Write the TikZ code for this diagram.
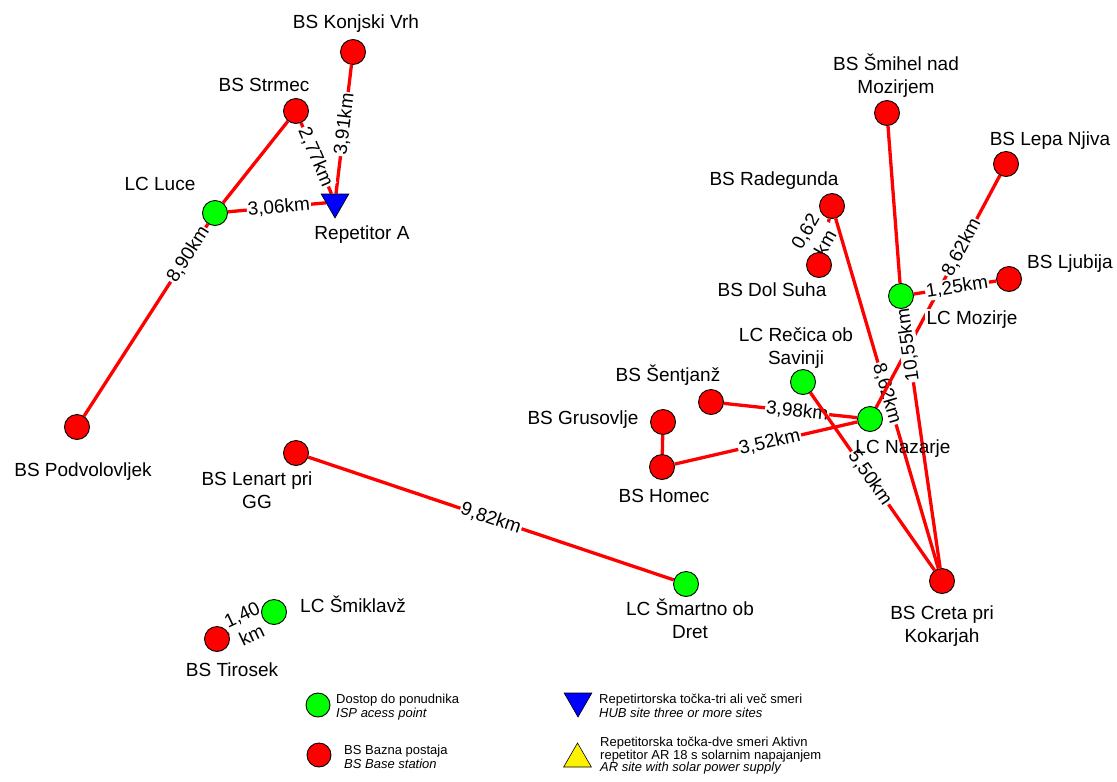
\documentclass[tikz,border=0pt]{standalone}
\usepackage{fontspec}
\setmainfont{Liberation Sans}
\usetikzlibrary{shapes.geometric}
\newcommand\lblfont{\fontsize{19}{23}\selectfont}
\newcommand\legfont{\fontsize{13}{14}\selectfont}
\newcommand\legfontb{\fontsize{13}{12.6}\selectfont}
\pgfdeclarelayer{bg}
\pgfsetlayers{bg,main}
\begin{document}
\begin{tikzpicture}[x=1pt,y=-1pt,
 site/.style={circle,draw=black,line width=0.9pt,minimum size=25pt,inner sep=0pt},
 bs/.style={site,fill=red},
 lc/.style={site,fill=green},
 hub/.style={regular polygon,regular polygon sides=3,shape border rotate=180,fill=blue,draw=black,line width=0.6pt,minimum size=32pt,inner sep=0pt},
 ar/.style={regular polygon,regular polygon sides=3,fill=yellow,draw=black,line width=0.6pt,minimum size=32pt,inner sep=0pt},
 link/.style={draw=red,line width=3.3pt},
 dist/.style={fill=white,inner sep=1pt,font=\lblfont,align=center},
 dists/.style={dist,sloped},
 sitename/.style={font=\lblfont,inner sep=0pt,align=center,text height=13.6pt,text depth=0pt},
 leg/.style={font=\legfont,inner sep=0pt,align=left,anchor=west,text height=9.3pt,text depth=0pt}
]
\useasboundingbox (0,0) rectangle (1117,782);

% sites
\node[bs] (konj) at (353,52) {};
\node[bs] (strmec) at (296,111) {};
\node[lc] (luce) at (215,213) {};
\node[hub] (rep) at (335,202) {};
\node[bs] (podv) at (77,427) {};
\node[bs] (lenart) at (296,453) {};
\node[lc] (smartno) at (686,584) {};
\node[lc] (smiklavz) at (274,612) {};
\node[bs] (tirosek) at (217,639) {};
\node[bs] (radeg) at (832,206) {};
\node[bs] (dolsuha) at (819,265) {};
\node[bs] (smihel) at (887,113) {};
\node[bs] (lepa) at (1006,164) {};
\node[bs] (ljubija) at (1009,279) {};
\node[lc] (mozirje) at (901,296) {};
\node[lc] (recica) at (803,382) {};
\node[bs] (sentjanz) at (711,402) {};
\node[bs] (grus) at (663,422) {};
\node[bs] (homec) at (662,467) {};
\node[lc] (nazarje) at (870,419) {};
\node[bs] (creta) at (942,581) {};

% site names (multi-line nodes are placed at their last line)
\node[sitename] (tkonj) at (356,22) {BS Konjski Vrh};
\node[sitename] (tstrmec) at (264,85) {BS Strmec};
\node[sitename] (tluce) at (160,184) {LC Luce};
\node[sitename] (trep) at (362,233) {Repetitor A};
\node[sitename] (tpodv) at (83,470) {BS Podvolovljek};
\node[sitename] (tlenart) at (257,502) {BS Lenart pri\\GG};
\node[sitename] (tsmiklavz) at (353,606) {LC Šmiklavž};
\node[sitename] (ttirosek) at (232,670) {BS Tirosek};
\node[sitename] (tsmartno) at (690,632) {LC Šmartno ob\\Dret};
\node[sitename] (thomec) at (664,496) {BS Homec};
\node[sitename] (tgrus) at (583,418) {BS Grusovlje};
\node[sitename] (tsentjanz) at (668,375) {BS Šentjanž};
\node[sitename] (trecica) at (796,358) {LC Rečica ob\\Savinji};
\node[sitename] (tnazarje) at (903,447) {LC Nazarje};
\node[sitename] (tcreta) at (942,636) {BS Creta pri\\Kokarjah};
\node[sitename] (tradeg) at (774,179) {BS Radegunda};
\node[sitename] (tdolsuha) at (772,290) {BS Dol Suha};
\node[sitename] (tsmihel) at (896,87) {BS Šmihel nad\\Mozirjem};
\node[sitename] (tlepa) at (1050,139) {BS Lepa Njiva};
\node[sitename] (tljubija) at (1070,262) {BS Ljubija};
\node[sitename,fill=white,inner sep=2pt] (tmozirje) at (972,318) {LC Mozirje};

% links
\begin{pgfonlayer}{bg}
\draw[link] (luce) -- (strmec);
\draw[link] (rep) -- (konj) node[dists,pos=0.54] {3,91km};
\draw[link] (strmec) -- (rep) node[dists,pos=0.48] {2,77km};
\draw[link] (luce) -- (rep) node[dists,pos=0.52] {3,06km};
\draw[link] (podv) -- (luce) node[dists,pos=0.84] {8,90km};
\draw[link] (lenart) -- (smartno) node[dists,pos=0.5] {9,82km};
\draw[link] (tirosek) -- (smiklavz) node[dists,pos=0.54] {1,40\\km};
\draw[link] (dolsuha) -- (radeg) node[dist,pos=0.45,xshift=-10pt,rotate=60] {0,62\\km};
\draw[link] (smihel) -- (mozirje);
\draw[link] (grus) -- (homec);
\draw[link] (radeg) -- (creta) node[dists,pos=0.5] {8,62km};
\draw[link] (nazarje) -- (lepa) node[dists,pos=0.69] {8,62km};
\draw[link] (mozirje) -- (ljubija) node[dists,pos=0.525] {1,25km};
\draw[link] (creta) -- (mozirje) node[dist,pos=0.86,rotate=98] {10,55km};
\draw[link] (sentjanz) -- (nazarje) node[dists,pos=0.55] {3,98km};
\draw[link] (homec) -- (nazarje) node[dists,pos=0.52] {3,52km};
\draw[link] (recica) -- (creta) node[dists,pos=0.48] {5,50km};
\end{pgfonlayer}

% legend
\node[lc,minimum size=24pt] (lgreen) at (318,705) {};
\node[leg] (tgreen) at (336,713) {Dostop do ponudnika\\\textit{ISP acess point}};
\node[bs,minimum size=24pt] (lred) at (319,755) {};
\node[leg] (tred) at (344,764) {BS Bazna postaja\\\textit{BS Base station}};
\node[hub] (lhub) at (578,701) {};
\node[leg] (thub) at (599,713) {Repetirtorska točka-tri ali več smeri\\\textit{HUB site three or more sites}};
\node[ar] (lar) at (577.5,759) {};
\node[leg,font=\legfontb] (tar) at (600,767) {Repetitorska točka-dve smeri Aktivn\\repetitor AR 18 s solarnim napajanjem\\\textit{AR site with solar power supply}};
\end{tikzpicture}
\end{document}
